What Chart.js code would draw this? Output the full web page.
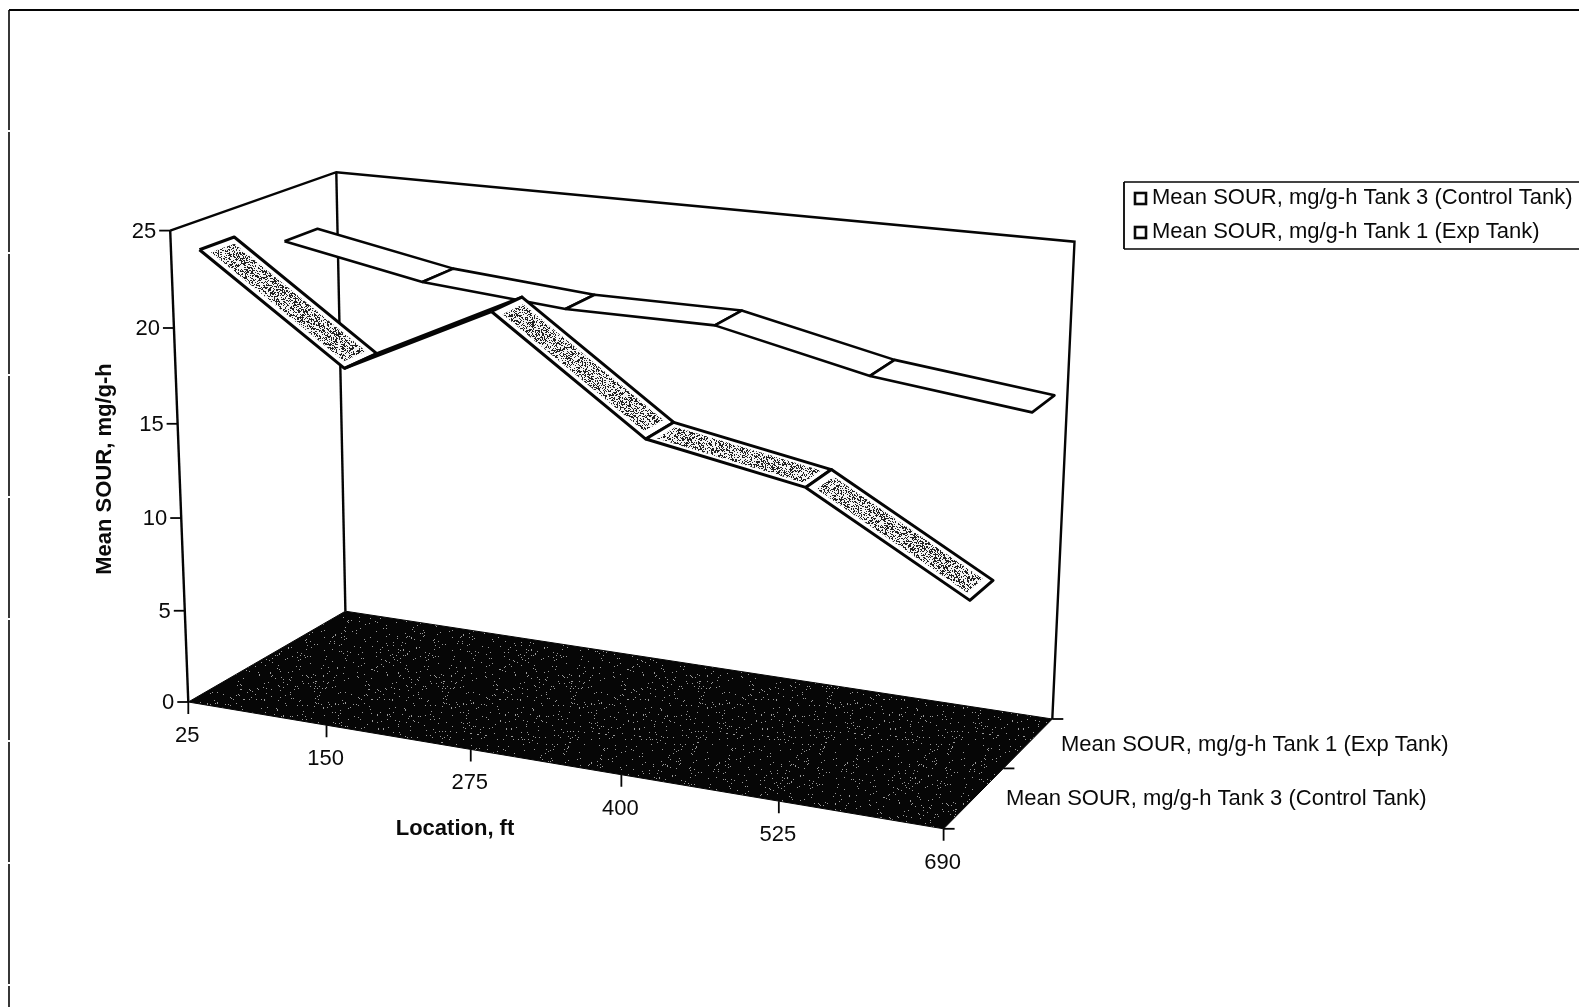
<!DOCTYPE html>
<html>
<head>
<meta charset="utf-8">
<title>Mean SOUR by location</title>
<script src="https://cdn.jsdelivr.net/npm/chart.js@4"></script>
<style>
  html, body { margin: 0; padding: 0; background: #fff; }
  canvas { display: block; }
</style>
</head>
<body>
<canvas id="chart" width="1579" height="1007"></canvas>
<script>
// Chart values
const locations = ["25", "150", "275", "400", "525", "690"];
const tank3Values = [23.5, 18.2, 22.0, 16.5, 15.1, 10.6];
const tank1Values = [22.3, 20.9, 20.3, 20.3, 18.6, 17.7];
const valueTicks = [0, 5, 10, 15, 20, 25];
const tank3Name = "Mean SOUR, mg/g-h Tank 3 (Control Tank)";
const tank1Name = "Mean SOUR, mg/g-h Tank 1 (Exp Tank)";
const valueMax = 25;

// Corners of the 3D box on the page: [x, y]
const box = {
  frontLeftBottom: [188.3, 702],
  backLeftBottom: [345.4, 611.2],
  backRightBottom: [1052.3, 719],
  frontRightBottom: [943.6, 828.8],
  frontLeftTop: [170.2, 230.6],
  backLeftTop: [336.3, 172.2],
  backRightTop: [1074.5, 241.7],
  frontRightTop: [961.7, 316.2],
};

// Perspective squeeze along an axis
function warp(t, a) {
  return (t * a) / (1 + (a - 1) * t);
}

function mix(p, q, t) {
  return [p[0] + (q[0] - p[0]) * t, p[1] + (q[1] - p[1]) * t];
}

// u along location, v along value, w into the depth (all 0..1)
function project(u, v, w) {
  const bottom = mix(
    mix(box.frontLeftBottom, box.backLeftBottom, w),
    mix(box.frontRightBottom, box.backRightBottom, w),
    u
  );
  const top = mix(
    mix(box.frontLeftTop, box.backLeftTop, w),
    mix(box.frontRightTop, box.backRightTop, w),
    u
  );
  const p = mix(bottom, top, v);
  return { x: p[0], y: p[1] };
}

const locU = (i) => warp(i / (locations.length - 1), 0.896);
const valV = (val) => warp(val / valueMax, 0.96);

// deterministic speckle textures
function speckle(base, dot, threshold, dotW) {
  const c = document.createElement("canvas");
  c.width = c.height = 128;
  const ctx = c.getContext("2d");
  ctx.fillStyle = base;
  ctx.fillRect(0, 0, 128, 128);
  ctx.fillStyle = dot;
  let seed = 12345;
  for (let y = 0; y < 128; y++) {
    for (let x = 0; x < 128; x++) {
      seed = (seed * 1103515245 + 12345) & 0x7fffffff;
      if ((seed >> 8) % 100 < threshold) ctx.fillRect(x, y, dotW, 1);
    }
  }
  return ctx.createPattern(c, "repeat");
}
const ribbonTexture = speckle("#f4f4f4", "#222222", 38, 1);
const floorTexture = speckle("#060606", "#9a9a9a", 3, 1);

function polygon(points, fillStyle, lineWidth) {
  return {
    data: points.concat([points[0]]),
    showLine: true,
    fill: "shape",
    backgroundColor: fillStyle,
    borderColor: "#050505",
    borderWidth: lineWidth,
    borderJoinStyle: "round",
    pointRadius: 0,
    tension: 0,
    clip: false,
  };
}

function segment(points, width, dash) {
  return {
    data: points,
    showLine: true,
    fill: false,
    borderColor: "#050505",
    borderWidth: width,
    borderDash: dash || [],
    pointRadius: 0,
    tension: 0,
    clip: false,
  };
}

// one quad per stretch between two locations; returned top-most first
function ribbon(values, wFront, wBack, textured) {
  const out = [];
  for (let i = values.length - 2; i >= 0; i--) {
    const u0 = locU(i), u1 = locU(i + 1);
    const v0 = valV(values[i]), v1 = valV(values[i + 1]);
    const rising = v1 > v0 + 0.05; // seen edge-on, only the dark underside shows
    if (textured && !rising) {
      const du = (u1 - u0) * 0.04, dw = (wBack - wFront) * 0.16;
      out.push(polygon([
        project(u0 + du, v0 + (v1 - v0) * 0.04, wFront + dw),
        project(u1 - du, v1 - (v1 - v0) * 0.04, wFront + dw),
        project(u1 - du, v1 - (v1 - v0) * 0.04, wBack - dw),
        project(u0 + du, v0 + (v1 - v0) * 0.04, wBack - dw),
      ], ribbonTexture, 0));
    }
    out.push(polygon([
      project(u0, v0, wFront),
      project(u1, v1, wFront),
      project(u1, v1, wBack),
      project(u0, v0, wBack),
    ], rising ? "#050505" : "#ffffff", textured ? 3 : 2.6));
  }
  return out;
}

const tickLen = 12;
function axisTicks() {
  const out = [];
  valueTicks.forEach((val) => {
    const p = project(0, valV(val), 0);
    out.push(segment([p, { x: p.x - 11, y: p.y }], 1.8));
  });
  locations.forEach((loc, i) => {
    const p = project(locU(i), 0, 0);
    out.push(segment([p, { x: p.x, y: p.y + tickLen }], 1.8));
  });
  [0, 0.55, 1].forEach((w) => {
    const p = project(1, 0, w);
    out.push(segment([p, { x: p.x + 11, y: p.y }], 1.8));
  });
  return out;
}

const corner = (u, v, w) => project(u, v, w);

// datasets: the first in the list is painted last
const datasets = [
  ...axisTicks(),
  ...ribbon(tank3Values, 0.17, 0.38, true),
  ...ribbon(tank1Values, 0.68, 0.88, false),
  polygon([corner(0, 0, 0), corner(1, 0, 0), corner(1, 0, 1), corner(0, 0, 1)], floorTexture, 1),
  segment([corner(0, 1, 0), corner(0, 0, 0)], 2.4),
  segment([corner(0, 1, 0), corner(0, 1, 1), corner(1, 1, 1), corner(1, 0, 1)], 2.4),
  segment([corner(0, 1, 1), corner(0, 0, 1)], 2.4),
  // page frame and legend frame
  segment([{ x: 1124, y: 182 }, { x: 1579, y: 182 }], 1.6),
  segment([{ x: 1124, y: 249 }, { x: 1579, y: 249 }], 1.6),
  segment([{ x: 1124, y: 182 }, { x: 1124, y: 249 }], 1.8),
  segment([{ x: 9, y: 10 }, { x: 1579, y: 10 }], 2.2),
  segment([{ x: 9, y: 10 }, { x: 9, y: 1007 }], 1.6, [120, 2]),
];

const textPlugin = {
  id: "labels3d",
  afterDatasetsDraw(chart) {
    const ctx = chart.ctx;
    const sx = chart.scales.x, sy = chart.scales.y;
    const put = (str, x, y, align, font) => {
      ctx.font = font;
      ctx.textAlign = align;
      ctx.textBaseline = "middle";
      ctx.fillText(str, sx.getPixelForValue(x), sy.getPixelForValue(y));
    };
    const normal = "22px 'Liberation Sans'";
    const bold = "bold 22px 'Liberation Sans'";
    ctx.save();
    ctx.fillStyle = "#0a0a0a";

    valueTicks.forEach((val) => {
      const p = project(0, valV(val), 0);
      put(String(val), p.x - 14, p.y + 1, "right", normal);
    });
    locations.forEach((loc, i) => {
      const p = project(locU(i), 0, 0);
      put(loc, p.x - 1, p.y + tickLen + 22, "center", normal);
    });

    put("Location, ft", 455, 829, "center", bold);
    put(tank1Name, 1061, 745, "left", normal);
    put(tank3Name, 1006, 799, "left", normal);

    // rotated axis title
    ctx.save();
    ctx.translate(sx.getPixelForValue(105), sy.getPixelForValue(469));
    ctx.rotate(-Math.PI / 2);
    put("Mean SOUR, mg/g-h", sx.getPixelForValue(0), sy.getPixelForValue(0), "center", bold);
    ctx.restore();

    // legend
    [[tank3Name, 198], [tank1Name, 232]].forEach(([name, y]) => {
      ctx.lineWidth = 2.6;
      ctx.strokeStyle = "#0a0a0a";
      ctx.strokeRect(sx.getPixelForValue(1135), sy.getPixelForValue(y - 5), 11, 11);
      put(name, 1152, y, "left", normal);
    });
    ctx.restore();
  },
};

new Chart(document.getElementById("chart"), {
  type: "scatter",
  data: { datasets },
  plugins: [textPlugin],
  options: {
    responsive: false,
    animation: false,
    layout: { padding: 0 },
    scales: {
      x: { type: "linear", min: 0, max: 1579, display: false },
      y: { type: "linear", min: 0, max: 1007, reverse: true, display: false },
    },
    plugins: {
      legend: { display: false },
      tooltip: { enabled: false },
      title: { display: false },
    },
  },
});
</script>
</body>
</html>
